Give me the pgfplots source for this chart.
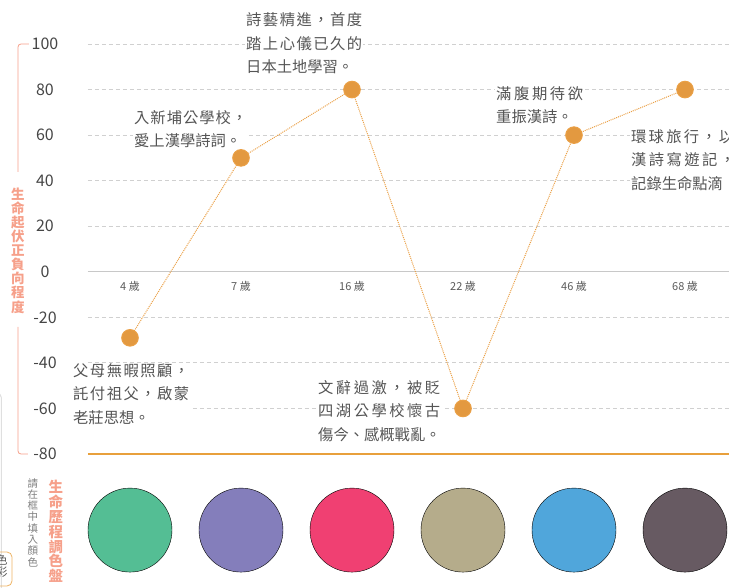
\documentclass[border=0pt]{standalone}
\usepackage{fontspec}
\setmainfont{Noto Sans CJK TC}
\usepackage{pgfplots}
\pgfplotsset{compat=1.18}

\definecolor{anncol}{RGB}{85,85,85}
\definecolor{ticky}{RGB}{70,70,70}
\definecolor{tickx}{RGB}{90,90,90}
\definecolor{gridcol}{RGB}{208,208,208}
\definecolor{zerocol}{RGB}{200,200,200}
\definecolor{salmon}{RGB}{246,160,138}
\definecolor{orangeline}{RGB}{232,160,60}
\definecolor{dotcol}{RGB}{234,160,70}
\definecolor{markcol}{RGB}{227,153,64}
\definecolor{pal1}{RGB}{84,190,148}
\definecolor{pal2}{RGB}{132,126,187}
\definecolor{pal3}{RGB}{240,64,114}
\definecolor{pal4}{RGB}{181,172,139}
\definecolor{pal5}{RGB}{80,166,219}
\definecolor{pal6}{RGB}{103,90,98}

% one justified line of an annotation
\newcommand\jl[2]{\hbox to #1{#2}}

\begin{document}
\begin{tikzpicture}[
    ann/.style={anchor=north west, fill=white, inner sep=1pt, align=left,
      text=anncol, font=\fontsize{15.3}{23.5}\selectfont},
  ]
\path[use as bounding box] (-88pt,-133pt) rectangle (641pt,454pt);
\clip (-88pt,-133pt) rectangle (641pt,454pt);

\begin{axis}[
    scale only axis,
    width=641pt, height=410pt,
    xmin=-0.3784, xmax=5.3964,
    ymin=-80, ymax=100,
    axis x line=middle, axis y line=left,
    x axis line style={-, draw=zerocol, line width=1.2pt},
    y axis line style={draw=none},
    hide obscured x ticks=false, hide obscured y ticks=false,
    major tick length=0pt,
    xtick={0,1,2,3,4,5},
    xticklabels={4 歲,7 歲,16 歲,22 歲,46 歲,68 歲},
    xticklabel style={font=\fontsize{11}{13}\selectfont, text=tickx, anchor=center, yshift=-15pt},
    ytick={-80,-60,-40,-20,0,20,40,60,80,100},
    yticklabels={-80,-60,-40,-20,0,20,40,60,80,100},
    yticklabel style={font=\fontsize{16}{18}\selectfont, text=ticky, anchor=center, xshift=-43pt},
    ymajorgrids,
    grid style={draw=gridcol, line width=0.8pt, dash pattern=on 4pt off 3pt},
    clip=false,
  ]
  % palette circles
  \addplot[only marks, mark=*, mark size=42pt, mark options={draw=none, fill=pal1}] coordinates {(0,-113.4)};
  \addplot[only marks, mark=*, mark size=42pt, mark options={draw=none, fill=pal2}] coordinates {(1,-113.4)};
  \addplot[only marks, mark=*, mark size=42pt, mark options={draw=none, fill=pal3}] coordinates {(2,-113.4)};
  \addplot[only marks, mark=*, mark size=42pt, mark options={draw=none, fill=pal4}] coordinates {(3,-113.4)};
  \addplot[only marks, mark=*, mark size=42pt, mark options={draw=none, fill=pal5}] coordinates {(4,-113.4)};
  \addplot[only marks, mark=*, mark size=42pt, mark options={draw=none, fill=pal6}] coordinates {(5,-113.4)};

  \draw[orangeline, line width=1.5pt] (axis cs:-0.3784,-80) -- (axis cs:5.3964,-80);

  % life curve
  \addplot[dotcol, densely dotted, line width=1pt, mark=*, mark size=8.3pt,
    mark options={solid, draw=none, fill=markcol}] coordinates {
    (0,-29) (1,50) (2,80) (3,-60) (4,60) (5,80)
  };
\end{axis}

% annotations
\node[ann] at (-16pt,91.7pt) {\jl{116pt}{父\hfill 母\hfill 無\hfill 暇\hfill 照\hfill 顧\hfill ，}\\
  \jl{116pt}{託\hfill 付\hfill 祖\hfill 父\hfill ，\hfill 啟\hfill 蒙}\\ 老莊思想。};
\node[ann] at (45pt,344.7pt) {\jl{113pt}{入\hfill 新\hfill 埔\hfill 公\hfill 學\hfill 校\hfill ，}\\ 愛上漢學詩詞。};
\node[ann] at (157pt,442.2pt) {\jl{116pt}{詩\hfill 藝\hfill 精\hfill 進\hfill ，\hfill 首\hfill 度}\\
  \jl{116pt}{踏\hfill 上\hfill 心\hfill 儀\hfill 已\hfill 久\hfill 的}\\ 日本土地學習。};
\node[ann] at (229pt,74.7pt) {\jl{122pt}{文\hfill 辭\hfill 過\hfill 激\hfill ，\hfill 被\hfill 貶}\\
  \jl{122pt}{四\hfill 湖\hfill 公\hfill 學\hfill 校\hfill 懷\hfill 古}\\ 傷今、感概戰亂。};
\node[ann] at (407pt,368.7pt) {\jl{87pt}{滿\hfill 腹\hfill 期\hfill 待\hfill 欲}\\ 重振漢詩。};
\node[ann] at (542pt,325.7pt) {\jl{103pt}{環\hfill 球\hfill 旅\hfill 行\hfill ，\hfill 以}\\
  \jl{104pt}{漢\hfill 詩\hfill 寫\hfill 遊\hfill 記\hfill ，}\\ 記錄生命點滴};

% y label with bracket
\draw[salmon, line width=0.8pt, rounded corners=3pt] (-59pt,410pt) -- (-70pt,410pt) -- (-70pt,282pt);
\draw[salmon, line width=0.8pt, rounded corners=3pt] (-70pt,127pt) -- (-70pt,0pt) -- (-60pt,0pt);
\node[text=salmon, align=center, inner sep=0pt, font=\fontsize{13.5}{14.1}\selectfont\bfseries]
  at (-70pt,203.5pt) {生\\命\\起\\伏\\正\\負\\向\\程\\度};

% palette captions
\node[text=salmon, align=center, inner sep=0pt, font=\fontsize{14.5}{14.8}\selectfont\bfseries]
  at (-32pt,-77.5pt) {生\\命\\歷\\程\\調\\色\\盤};
\node[text=gray, align=center, inner sep=0pt, font=\fontsize{10.5}{11.3}\selectfont]
  at (-55pt,-68.5pt) {請\\在\\框\\中\\填\\入\\顏\\色};

% page edge pieces
\draw[gray!25, line width=1pt, rounded corners=5pt] (-95pt,61pt) -- (-86.5pt,61pt) -- (-86.5pt,-140pt);
\draw[orangeline!80, line width=0.8pt, rounded corners=5pt] (-108pt,-98pt) rectangle (-76pt,-132pt);
\node[text=anncol, align=center, inner sep=0pt, font=\fontsize{11.5}{12}\selectfont] at (-86pt,-112pt) {色\\彩};
\end{tikzpicture}
\end{document}
